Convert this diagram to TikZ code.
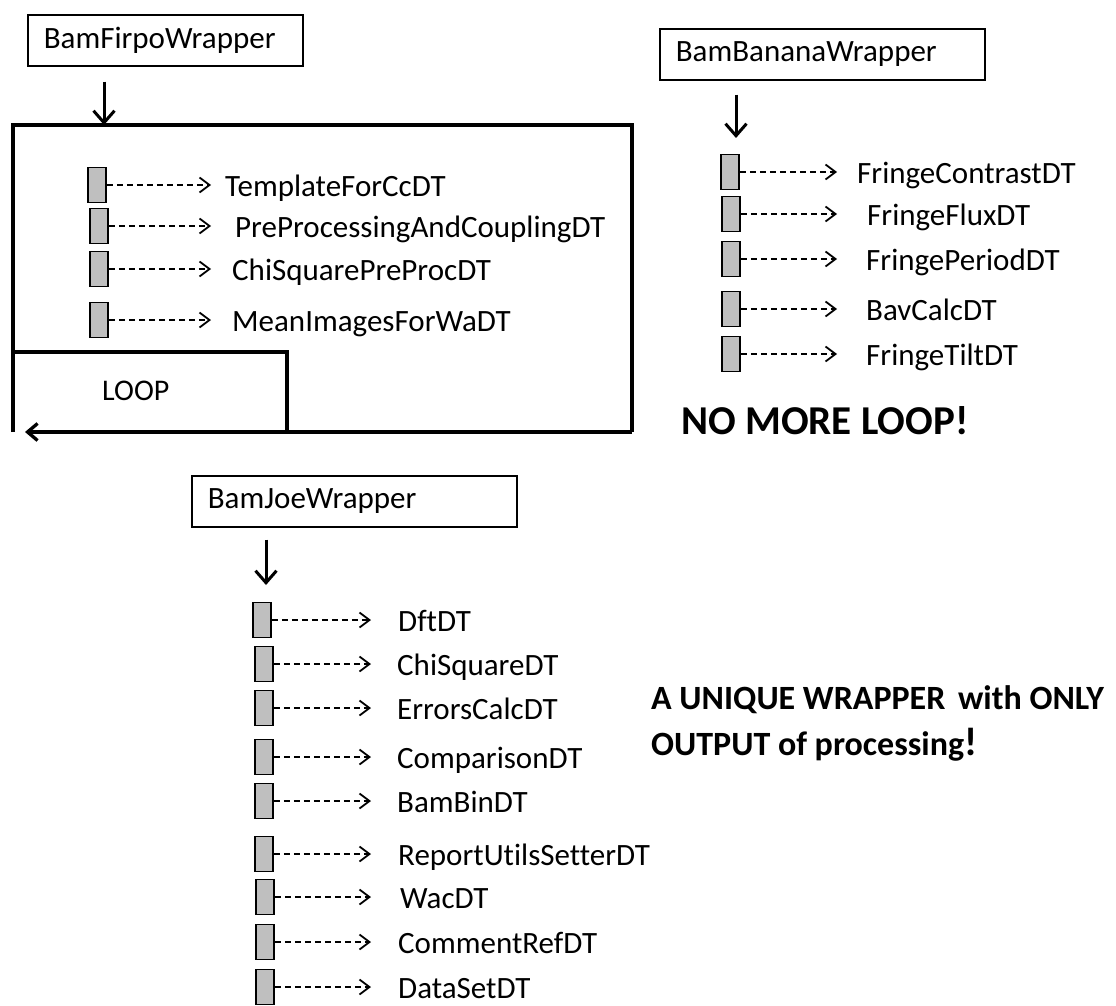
\documentclass[tikz,border=0pt]{standalone}
\usepackage{fontspec}
\setmainfont{Carlito}[Ligatures=NoCommon]
\usetikzlibrary{arrows.meta}

\begin{document}
\begin{tikzpicture}[x=1pt,y=1pt,
    wrapper/.style={draw, line width=1.6pt, anchor=north west, minimum height=51,
      inner xsep=16, inner ysep=0, align=left, text width=#1,
      font=\fontsize{31}{35}\selectfont},
    dtbox/.style={draw, line width=1.5pt, fill=gray!50, minimum width=18,
      minimum height=35, inner sep=0},
    dtlabel/.style={anchor=base west, inner sep=0, font=\fontsize{31}{35}\selectfont},
    calls/.style={line width=1.5pt, dash pattern=on 6pt off 4pt,
      -{Straight Barb[length=10pt,width=15pt,line width=1.8pt]}},
    callarrow/.style={line width=3pt, -{Straight Barb[length=12pt,width=21pt]}},
    frame/.style={line width=3.3pt},
    remark/.style={anchor=base west, inner sep=0, font=\bfseries\fontsize{#1}{#1}\selectfont}]

    \useasboundingbox (0,0) rectangle (1116,-1006);

    % Wrappers
    \node[wrapper=243] (firpo) at (27,-14) {BamFirpoWrapper};
    \node[wrapper=293] (banana) at (659,-28) {BamBananaWrapper};
    \node[wrapper=293] (joe) at (191,-475) {BamJoeWrapper};

    % Loop frame round the Firpo tasks
    \coordinate (fr-nw) at (13,-125);
    \coordinate (fr-ne) at (632,-125);
    \coordinate (fr-se) at (632,-432);
    \coordinate (fr-sw) at (13,-432);
    \coordinate (lp-n) at (287,-352);
    \draw[frame] (fr-sw) -- (fr-nw) -- (fr-ne) -- (fr-se);
    \draw[frame, -{Straight Barb[length=10pt,width=17pt]}] (fr-se) -- ([xshift=12pt]fr-sw);
    \draw[frame] (fr-nw |- lp-n) -- (lp-n) -- (lp-n |- fr-sw);
    \node[dtlabel, font=\fontsize{30}{34}\selectfont] (loop) at (102,-400) {LOOP};

    % Calls from the wrappers
    \coordinate (firpoin) at (104,-125);
    \coordinate (bananain) at (736,-138);
    \coordinate (joein) at (266,-585);
    \draw[callarrow] ([yshift=-15pt]firpo.south -| firpoin) -- (firpoin);
    \draw[callarrow] ([yshift=-14pt]banana.south -| bananain) -- (bananain);
    \draw[callarrow] ([yshift=-12pt]joe.south -| joein) -- (joein);

    % Tips of the dashed arrows
    \coordinate (tipF) at (211,0);
    \coordinate (tipB) at (837,0);
    \coordinate (tipJ) at (371,0);

    % Firpo tasks
    \foreach \i/\bx/\y/\tx/\lbl in {1/97/185/225/TemplateForCcDT,
        2/99/226/235/PreProcessingAndCouplingDT,
        3/99/269/232/ChiSquarePreProcDT,
        4/99/320/232/MeanImagesForWaDT} {
      \node[dtbox] (fdt\i) at (\bx,-\y) {};
      \node[dtlabel] (fdtl\i) at (\tx,-\y-11) {\lbl};
      \draw[calls] (fdt\i.east) -- (fdt\i.east -| tipF);
    }

    % Banana tasks
    \foreach \i/\bx/\y/\tx/\lbl in {1/730/172/857/FringeContrastDT,
        2/731/214/867/FringeFluxDT,
        3/731/259/866/FringePeriodDT,
        4/731/309/866/BavCalcDT,
        5/731/354/866/FringeTiltDT} {
      \node[dtbox] (bdt\i) at (\bx,-\y) {};
      \node[dtlabel] (bdtl\i) at (\tx,-\y-11) {\lbl};
      \draw[calls] (bdt\i.east) -- (bdt\i.east -| tipB);
    }

    % Joe tasks
    \foreach \i/\bx/\y/\tx/\lbl in {1/262/620/398/DftDT,
        2/264/664/397/ChiSquareDT,
        3/264/708/397/ErrorsCalcDT,
        4/264/757/397/ComparisonDT,
        5/264/801/397/BamBinDT,
        6/264/854/398/ReportUtilsSetterDT,
        7/265/897/400/WacDT,
        8/265/942/398/CommentRefDT,
        9/265/987/398/DataSetDT} {
      \node[dtbox] (jdt\i) at (\bx,-\y) {};
      \node[dtlabel] (jdtl\i) at (\tx,-\y-11) {\lbl};
      \draw[calls] (jdt\i.east) -- (jdt\i.east -| tipJ);
    }

    % Remarks
    \node[remark=41] (noloop) at (681,-434) {NO MORE LOOP!};
    \node[remark=34] (unique1) at (651,-709) {A UNIQUE WRAPPER\hspace{5pt} with ONLY};
    \node[remark=34] (unique2) at (651,-755) {OUTPUT of processing{\fontsize{40}{40}\selectfont!}};
\end{tikzpicture}
\end{document}
